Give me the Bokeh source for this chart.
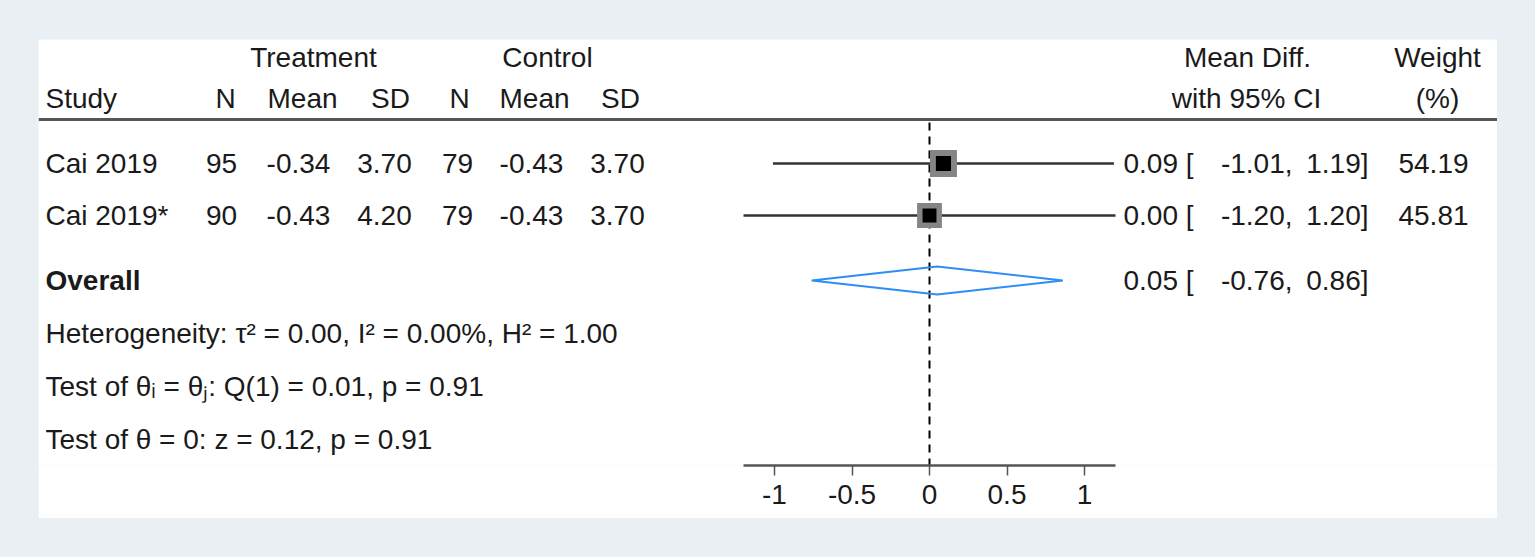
from math import sqrt
from bokeh.plotting import figure
from bokeh.models import Range1d, FixedTicker, GlobalInlineStyleSheet
from bokeh.core.properties import value
from bokeh.embed import file_html
from bokeh.resources import INLINE

# ---------------- data ----------------
studies = ["Cai 2019", "Cai 2019*"]
treat_n = [95, 90]
treat_mean = [-0.34, -0.43]
treat_sd = [3.70, 4.20]
ctrl_n = [79, 79]
ctrl_mean = [-0.43, -0.43]
ctrl_sd = [3.70, 3.70]
mean_diff = [0.09, 0.00]
ci_low = [-1.01, -1.20]
ci_high = [1.19, 1.20]
weights = [54.19, 45.81]
overall_est = 0.05
overall_low = -0.76
overall_high = 0.86
tau2, i2, h2 = 0.00, 0.00, 1.00
q_stat, q_df, q_p = 0.01, 1, 0.91
z_stat, z_p = 0.12, 0.91
null_value = 0
x_ticks = [-1, -0.5, 0, 0.5, 1]
tick_labels = ["-1", "-0.5", "0", "0.5", "1"]

# ---------------- layout ----------------
PANEL_L, PANEL_R = 38, 1497
ZERO_PX, UNIT_PX = 929, 155.0
FONT = value("Liberation Sans")
FS = "28px"
TXT = "#1a1a1a"


def dx(px):
    return (px - ZERO_PX) / UNIT_PX


Y_H1, Y_H2, Y_RULE = 18, 59, 80
ROW_Y = [124, 176]
Y_OV, Y_HET, Y_T1, Y_T2 = 241, 294, 347, 400
FRAME_H = 426

p = figure(width=PANEL_R - PANEL_L, height=479,
           x_range=Range1d(dx(PANEL_L), dx(PANEL_R)),
           y_range=Range1d(FRAME_H, 0),
           output_backend="svg", toolbar_location=None,
           y_axis_location=None, min_border=0, min_border_bottom=53,
           background_fill_color="white", border_fill_color="white",
           outline_line_color=None)
p.margin = (39, 0, 0, 38)
p.stylesheets = [GlobalInlineStyleSheet(css="body { background-color: #e9eff2; }")]
p.grid.visible = False

xa = p.xaxis[0]
xa.ticker = FixedTicker(ticks=x_ticks)
xa.bounds = (min(ci_low), max(ci_high))
xa.major_label_overrides = dict(zip(x_ticks, tick_labels))
xa.axis_line_color = "#555555"
xa.axis_line_width = 2.5
xa.major_tick_line_color = "#555555"
xa.major_tick_line_width = 1.5
xa.major_tick_out = 10
xa.major_tick_in = 0
xa.minor_tick_out = 0
xa.minor_tick_in = 0
xa.major_label_standoff = 9
xa.major_label_text_font = "Liberation Sans"
xa.major_label_text_font_size = FS
xa.major_label_text_color = TXT


def txt(x_px, y, s, align="center", bold=False):
    p.text(x=[dx(x_px)], y=[y], text=[s], text_font=FONT, text_font_size=FS,
           text_align=align, text_baseline="middle", text_color=TXT,
           text_font_style="bold" if bold else "normal")


# header rule and null line
p.segment(x0=[dx(PANEL_L)], x1=[dx(PANEL_R)], y0=[Y_RULE], y1=[Y_RULE],
          line_color="#555555", line_width=3)
p.segment(x0=[null_value], x1=[null_value], y0=[Y_RULE + 3], y1=[FRAME_H],
          line_color="black", line_width=2, line_dash="8 6")

# headers
txt(313, Y_H1, "Treatment")
txt(547, Y_H1, "Control")
txt(1247, Y_H1, "Mean Diff.")
txt(1437, Y_H1, "Weight")
txt(45, Y_H2, "Study", "left")
for xc, s in [(225, "N"), (302, "Mean"), (390, "SD"), (459, "N"), (534, "Mean"), (620, "SD")]:
    txt(xc, Y_H2, s)
txt(1246, Y_H2, "with 95% CI")
txt(1437, Y_H2, "(%)")

# study rows
for i, y in enumerate(ROW_Y):
    txt(45, y, studies[i], "left")
    txt(221, y, str(treat_n[i]))
    txt(298, y, f"{treat_mean[i]:.2f}")
    txt(384, y, f"{treat_sd[i]:.2f}")
    txt(457, y, str(ctrl_n[i]))
    txt(531, y, f"{ctrl_mean[i]:.2f}")
    txt(617, y, f"{ctrl_sd[i]:.2f}")
    txt(1123, y, f"{mean_diff[i]:.2f} [", "left")
    txt(1292, y, f"{ci_low[i]:.2f},", "right")
    txt(1368, y, f"{ci_high[i]:.2f}]", "right")
    txt(1433, y, f"{weights[i]:.2f}")

# CI lines and boxes
p.segment(x0=ci_low, x1=ci_high, y0=ROW_Y, y1=ROW_Y, line_color="#333333", line_width=2.5)
box = [3.67 * sqrt(w) for w in weights]
p.scatter(x=mean_diff, y=ROW_Y, marker="square", size=box,
          fill_color="#858585", line_color=None)
p.scatter(x=mean_diff, y=ROW_Y, marker="square", size=[b * 0.56 for b in box],
          fill_color="black", line_color=None)

# overall
txt(45, Y_OV, "Overall", "left", bold=True)
p.patch(x=[overall_low, overall_est, overall_high, overall_est],
        y=[Y_OV, Y_OV - 14, Y_OV, Y_OV + 14],
        fill_color=None, line_color="#2f8ef5", line_width=2)
txt(1123, Y_OV, f"{overall_est:.2f} [", "left")
txt(1292, Y_OV, f"{overall_low:.2f},", "right")
txt(1368, Y_OV, f"{overall_high:.2f}]", "right")

txt(45, Y_HET, f"Heterogeneity: \u03c4\u00b2 = {tau2:.2f}, I\u00b2 = {i2:.2f}%, H\u00b2 = {h2:.2f}", "left")
txt(45, Y_T1, f"Test of \u03b8\u1d62 = \u03b8\u2c7c: Q({q_df}) = {q_stat:.2f}, p = {q_p:.2f}", "left")
txt(45, Y_T2, f"Test of \u03b8 = 0: z = {z_stat:.2f}, p = {z_p:.2f}", "left")

open("out.html", "w").write(file_html(p, INLINE))
